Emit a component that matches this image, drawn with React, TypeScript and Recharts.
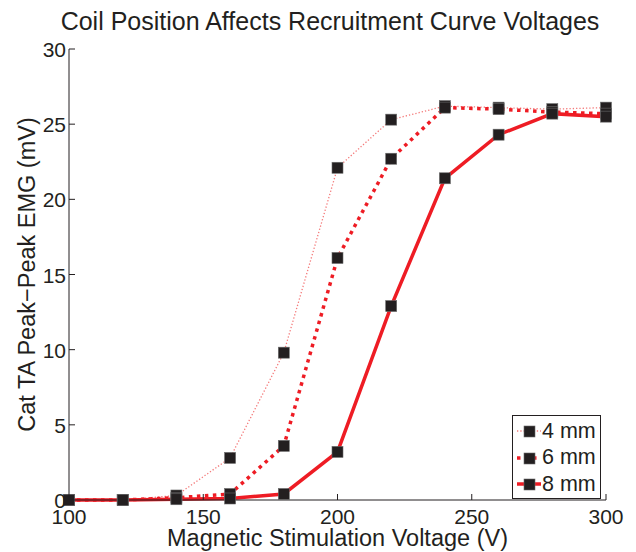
import { LineChart, Line, XAxis, YAxis } from 'recharts';

const voltages = [100, 120, 140, 160, 180, 200, 220, 240, 260, 280, 300];
const emg4mm = [0, 0, 0.3, 2.8, 9.8, 22.1, 25.3, 26.2, 26.1, 26.0, 26.1];
const emg6mm = [0, 0, 0.15, 0.4, 3.6, 16.1, 22.7, 26.1, 26.0, 25.8, 25.7];
const emg8mm = [0, 0, 0.05, 0.1, 0.4, 3.2, 12.9, 21.4, 24.3, 25.7, 25.5];
const xTicks = [100, 150, 200, 250, 300];
const yTicks = [0, 5, 10, 15, 20, 25, 30];

const data = voltages.map((v, i) => ({ v, mm4: emg4mm[i], mm6: emg6mm[i], mm8: emg8mm[i] }));

const FONT = '"Liberation Sans", Arial, Helvetica, sans-serif';
const INK = '#231f20';
const RED = '#ee1c24';

const series = [
  { key: 'mm4', name: '4 mm', stroke: '#f47a7a', width: 1.3, dash: '1.3 2' },
  { key: 'mm6', name: '6 mm', stroke: RED, width: 3.5, dash: '3.5 4.5' },
  { key: 'mm8', name: '8 mm', stroke: RED, width: 3.5, dash: undefined as string | undefined },
];

const SquareDot = (props: any) => {
  const { cx, cy } = props;
  if (cx == null || cy == null) return null;
  return <rect x={cx - 5.5} y={cy - 5.5} width={11} height={11} fill={INK} stroke="#6b6b6b" strokeWidth={0.6} />;
};

const BottomTick = (props: any) => {
  const { x, y, payload } = props;
  return (
    <g>
      <line x1={x} y1={y} x2={x} y2={y - 6} stroke={INK} strokeWidth={1} />
      <text x={x} y={y + 24} textAnchor="middle" fontSize={21} fontFamily={FONT} fill={INK}>{payload.value}</text>
    </g>
  );
};

const LeftTick = (props: any) => {
  const { x, y, payload } = props;
  return (
    <g>
      <line x1={x} y1={y} x2={x + 6} y2={y} stroke={INK} strokeWidth={1} />
      <text x={x - 3} y={y + 8} textAnchor="end" fontSize={21} fontFamily={FONT} fill={INK}>{payload.value}</text>
    </g>
  );
};

const TopTick = (props: any) => {
  const { x, y } = props;
  return <line x1={x} y1={y} x2={x} y2={y + 6} stroke={INK} strokeWidth={1} />;
};

const RightTick = (props: any) => {
  const { x, y } = props;
  return <line x1={x} y1={y} x2={x - 6} y2={y} stroke={INK} strokeWidth={1} />;
};

const LegendBox = () => (
  <div
    style={{
      position: 'absolute', left: 512, top: 415, width: 87, height: 80, border: `1.5px solid ${INK}`,
      background: '#fff', paddingTop: 2, fontFamily: FONT,
    }}
  >
    {series.map((s) => (
      <div key={s.key} style={{ display: 'flex', alignItems: 'center', height: 26.5 }}>
        <svg width={29} height={20} style={{ display: 'block' }}>
          <line x1={4} y1={10} x2={28} y2={10} stroke={s.stroke} strokeWidth={s.width} strokeDasharray={s.dash} />
          <rect x={11} y={5} width={11} height={11} fill={INK} stroke="#6b6b6b" strokeWidth={0.6} />
        </svg>
        <span style={{ fontSize: 21.5, color: INK, lineHeight: '21px' }}>{s.name}</span>
      </div>
    ))}
  </div>
);

export default function App() {
  return (
    <div style={{ position: 'absolute', left: 0, top: 0, width: 636, height: 552, background: '#fff' }}>
      <div
        style={{
          position: 'absolute', left: 30, width: 600, top: 6, textAlign: 'center',
          fontFamily: FONT, fontSize: 25, color: INK, lineHeight: '30px',
        }}
      >
        Coil Position Affects Recruitment Curve Voltages
      </div>
      <LineChart width={636} height={552} data={data} margin={{ top: 49, right: 30, bottom: 0, left: 0 }}>
        <XAxis
          dataKey="v" type="number" domain={[100, 300]} ticks={xTicks} height={52}
          tickSize={0} tickMargin={0} tick={<BottomTick />} stroke={INK} interval={0}
          label={{ value: 'Magnetic Stimulation Voltage (V)', position: 'insideBottom', offset: 6, style: { fontSize: 23.5, fontFamily: FONT, fill: INK } }}
        />
        <XAxis
          xAxisId="top" orientation="top" dataKey="v" type="number" domain={[100, 300]} ticks={xTicks}
          height={0} tickSize={0} tickMargin={0} tick={<TopTick />} stroke={INK} interval={0}
        />
        <YAxis
          type="number" domain={[0, 30]} ticks={yTicks} width={69} tickSize={0} tickMargin={0}
          tick={<LeftTick />} stroke={INK} interval={0}
          label={{ value: 'Cat TA Peak\u2212Peak EMG (mV)', angle: -90, position: 'center', dx: -8, style: { fontSize: 23.5, fontFamily: FONT, fill: INK, textAnchor: 'middle' } }}
        />
        <YAxis
          yAxisId="right" orientation="right" type="number" domain={[0, 30]} ticks={yTicks} width={0}
          tickSize={0} tickMargin={0} tick={<RightTick />} stroke={INK} interval={0}
        />
        {series.map((s) => (
          <Line
            key={s.key}
            type="linear"
            dataKey={s.key}
            name={s.name}
            stroke={s.stroke}
            strokeWidth={s.width}
            strokeDasharray={s.dash}
            dot={<SquareDot />}
            activeDot={false}
            isAnimationActive={false}
          />
        ))}
      </LineChart>
      <LegendBox />
    </div>
  );
}
